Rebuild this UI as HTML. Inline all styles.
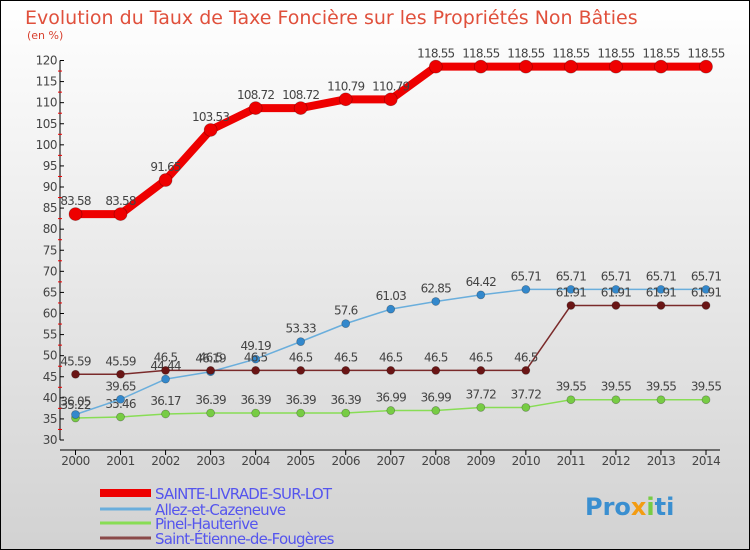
<!DOCTYPE html>
<html><head><meta charset="utf-8"><style>
body{margin:0}
#wrap{width:750px;height:550px;position:relative;overflow:hidden;font-family:"DejaVu Sans","Liberation Sans",sans-serif}
</style></head><body>
<div id="wrap">
<svg id="c" width="750" height="550" xmlns="http://www.w3.org/2000/svg">
<defs><linearGradient id="bg" x1="0" y1="0" x2="0" y2="1"><stop offset="0" stop-color="#ffffff"/><stop offset="1" stop-color="#d2d2d2"/></linearGradient></defs>
<rect x="0.5" y="0.5" width="749" height="549" fill="url(#bg)" stroke="#000"/>
<text x="25" y="24" font-size="19" fill="#e0503c">Evolution du Taux de Taxe Foncière sur les Propriétés Non Bâties</text>
<text x="27" y="39" font-size="11" fill="#d8402e">(en %)</text>
<g id="axes"></g><g id="series"></g><g id="legend"></g>
<text x="585" y="515" font-size="24" font-weight="bold" fill="#3a8fd0">Pro<tspan fill="#f39c12">x</tspan><tspan fill="#77cc44">i</tspan>ti</text>
</svg>
</div>
<script>
const years=[2000,2001,2002,2003,2004,2005,2006,2007,2008,2009,2010,2011,2012,2013,2014];
const yTicks=[30,35,40,45,50,55,60,65,70,75,80,85,90,95,100,105,110,115,120];
const sainte=[83.58,83.58,91.65,103.53,108.72,108.72,110.79,110.79,118.55,118.55,118.55,118.55,118.55,118.55,118.55];
const allez=[36.05,39.65,44.44,46.19,49.19,53.33,57.6,61.03,62.85,64.42,65.71,65.71,65.71,65.71,65.71];
const pinel=[35.22,35.46,36.17,36.39,36.39,36.39,36.39,36.99,36.99,37.72,37.72,39.55,39.55,39.55,39.55];
const etienne=[45.59,45.59,46.5,46.5,46.5,46.5,46.5,46.5,46.5,46.5,46.5,61.91,61.91,61.91,61.91];
const names=["SAINTE-LIVRADE-SUR-LOT","Allez-et-Cazeneuve","Pinel-Hauterive","Saint-Étienne-de-Fougères"];
const NS="http://www.w3.org/2000/svg";
function X(i){return 75.5+i*(706-75.5)/(years.length-1);}
function Y(v){return 440-(v-30)*(379.5/90);}
function mk(t,a,p){const e=document.createElementNS(NS,t);for(const k in a)e.setAttribute(k,a[k]);p.appendChild(e);return e;}
const ax=document.getElementById('axes');
let l=mk('line',{x1:60,y1:Y(120),x2:60,y2:440,stroke:'#000','stroke-width':1},ax);


l=mk('line',{x1:60,y1:450,x2:720,y2:450,stroke:'#000','stroke-width':1},ax);


yTicks.forEach(v=>{
 mk('line',{x1:60,y1:Y(v),x2:64,y2:Y(v),stroke:'#000'},ax);
 if(v<120){mk('line',{x1:58,y1:Y(v+2.5),x2:62,y2:Y(v+2.5),stroke:'#e00'},ax);}
 const t=mk('text',{x:57,y:Y(v)+4,'font-size':12,'text-anchor':'end',fill:'#444','letter-spacing':'-0.5'},ax);
 t.textContent=v;
 
 
});
years.forEach((yr,i)=>{
 mk('line',{x1:X(i),y1:450,x2:X(i),y2:455,stroke:'#000'},ax);
 const t=mk('text',{x:X(i),y:465,'font-size':12,'text-anchor':'middle',fill:'#444','letter-spacing':'-0.5'},ax);
 t.textContent=yr;
 
 
});
const sg=document.getElementById('series');
function draw(data,color,w,r,name,dot){
 const g=mk('g',{},sg);
 
 
 const pl=mk('polyline',{points:data.map((v,i)=>X(i)+','+Y(v)).join(' '),fill:'none',stroke:color,'stroke-width':w,'stroke-linejoin':'round'},g);
 
 
 data.forEach((v,i)=>{
  const c=mk('circle',{cx:X(i),cy:Y(v),r:r,fill:dot,stroke:'rgba(0,0,0,0.3)','stroke-width':0.7},g);
  
  
  const t=mk('text',{x:X(i),y:Y(v)-9,'font-size':12,'text-anchor':'middle',fill:'#444','letter-spacing':'-0.8'},g);
  t.textContent=v;
  
  
 });
}
draw(pinel,'#88dd55',1.5,4,'series-pinel','#77cc44');
draw(allez,'#6aaedc',1.5,4,'series-allez','#3388cc');
draw(etienne,'#7a2a2a',1.5,4,'series-etienne','#6a1515');
draw(sainte,'#ee0000',8,6.5,'series-sainte-livrade','#ee0000');
const lg=document.getElementById('legend');
const lc=['#ee0000','#6aaedc','#88dd55','#8a4a4a'],lw=[8,3,3,3],ly=[493,509,523,538];
names.forEach((n,i)=>{
 const g=mk('g',{},lg);
 
 
 mk('line',{x1:100,y1:ly[i],x2:151,y2:ly[i],stroke:lc[i],'stroke-width':lw[i]},g);
 const t=mk('text',{x:155,y:ly[i]+6,'font-size':15,fill:'#5555ee','letter-spacing':'-0.8'},g);
 t.textContent=n;
});
</script>
</body></html>
